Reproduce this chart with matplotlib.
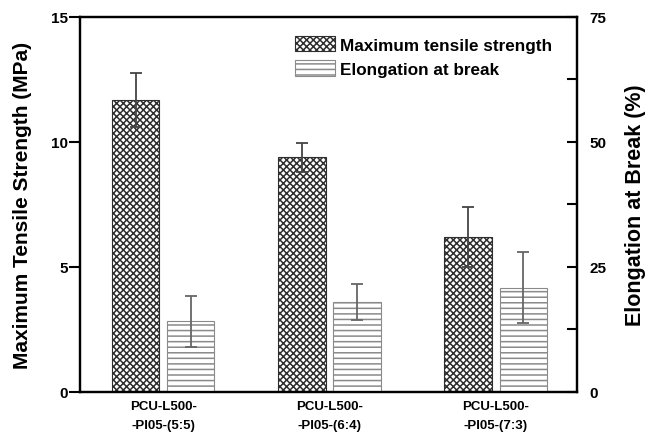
import matplotlib
matplotlib.use("Agg")
import matplotlib.pyplot as plt
import numpy as np

# Sample groups
categories = ["PCU-L500-\n-PI05-(5:5)", "PCU-L500-\n-PI05-(6:4)", "PCU-L500-\n-PI05-(7:3)"]
tensile = [11.67, 9.38, 6.18]          # MPa
tensile_err = [1.08, 0.58, 1.20]
elongation = [14.1, 17.9, 20.8]        # %
elongation_err = [5.1, 3.6, 7.1]

bold = dict(family=["Liberation Sans", "DejaVu Sans"], weight="bold")
narrow = dict(family=["Liberation Sans Narrow", "Liberation Sans", "DejaVu Sans"], weight="bold")

plt.rcParams["hatch.linewidth"] = 1.1

fig = plt.figure(figsize=(6.56, 4.39), dpi=100)
ax = fig.add_axes([0.122, 0.105, 0.758, 0.854])
ax2 = ax.twinx()

x = np.arange(len(categories))
w = 0.285
off = 0.166

b1 = ax.bar(x - off, tensile, w, facecolor="white", edgecolor="#2e2e2e",
            hatch="xxxxx", linewidth=0.8, label="Maximum tensile strength", zorder=2)
ax.errorbar(x - off, tensile, yerr=tensile_err, fmt="none", ecolor="#444444",
            elinewidth=1.3, capsize=4, capthick=1.3, zorder=3)

b2 = ax2.bar(x + off, elongation, w, facecolor="white", edgecolor="#8a8a8a",
             hatch="---", linewidth=0.8, label="Elongation at break", zorder=2)
ax2.errorbar(x + off, elongation, yerr=elongation_err, fmt="none", ecolor="#666666",
             elinewidth=1.3, capsize=4, capthick=1.3, zorder=3)

ax.set_xlim(-0.5, 2.49)
ax.set_ylim(0, 15)
ax2.set_ylim(0, 75)

ax.set_yticks([0, 5, 10, 15])
ax2.set_yticks([0, 25, 50, 75])
ax2.set_yticks([12.5, 37.5, 62.5], minor=True)

ax.set_xticks(x)
ax.set_xticklabels(categories, linespacing=1.75, fontsize=9.5, **bold)
ax.tick_params(axis="x", length=0, pad=6)
ax.tick_params(axis="y", direction="out", length=8, width=1.5, pad=1)
ax2.tick_params(axis="y", which="major", direction="in", length=7, width=1.5, pad=9)
ax2.tick_params(axis="y", which="minor", direction="in", length=7, width=1.5)

for lab in ax.get_yticklabels() + ax2.get_yticklabels():
    lab.set_fontproperties(matplotlib.font_manager.FontProperties(**narrow, size=11))

for a in (ax, ax2):
    for s in a.spines.values():
        s.set_linewidth(1.6)
        s.set_color("black")

ax.set_ylabel("Maximum Tensile Strength (MPa)", fontsize=15, labelpad=13, **bold)
ax2.set_ylabel("Elongation at Break (%)", fontsize=15.5, labelpad=13, **bold)

leg = ax.legend(handles=[b1, b2], loc="upper right", bbox_to_anchor=(0.98, 0.99),
                frameon=False, prop=dict(size=12.3, **bold), handlelength=2.35,
                handleheight=1.0, handletextpad=0.3, labelspacing=0.45)

fig.savefig("out.png", dpi=100)
